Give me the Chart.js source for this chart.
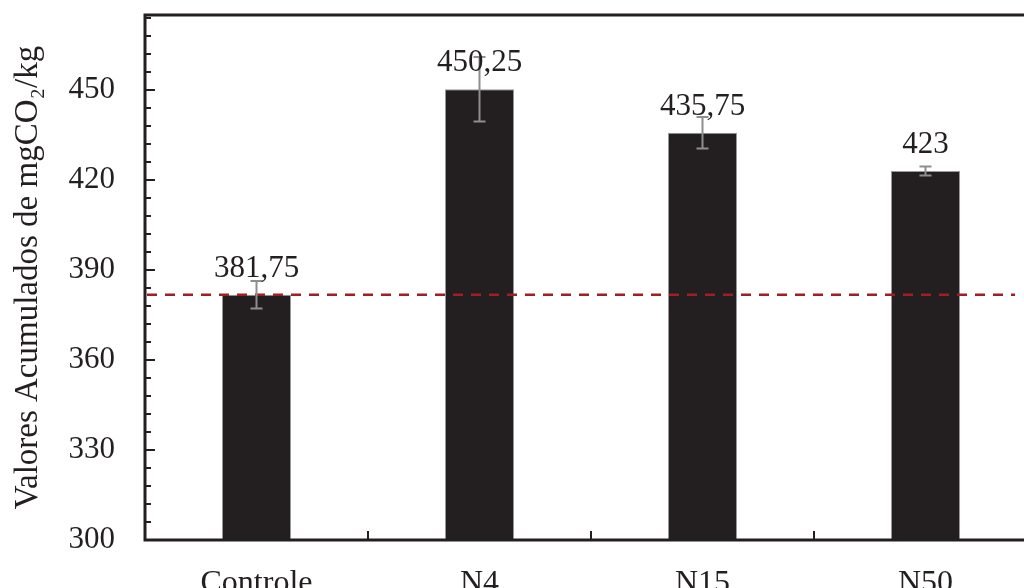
<!DOCTYPE html>
<html>
<head>
<meta charset="utf-8">
<script src="https://cdn.jsdelivr.net/npm/chart.js@4/dist/chart.umd.min.js"></script>
<style>
  body { margin: 0; background: #fff; overflow: hidden; }
  #wrap { width: 1050px; height: 588px; position: relative; }
</style>
</head>
<body>
<div id="wrap"><canvas id="chart"></canvas></div>
<script>
const categories = ["Controle", "N4", "N15", "N50"];
const values = [381.75, 450.25, 435.75, 423];
const errors = [4.6, 10.75, 5.25, 1.5];
const valueLabels = ["381,75", "450,25", "435,75", "423"];
const referenceValue = 381.75;
const yTicks = [300, 330, 360, 390, 420, 450];
const minorStep = 6;

const FONT = "'Liberation Serif', 'Times New Roman', serif";
const TEXT = "#231f20";

// frame, inward tick marks
const framePlugin = {
    id: "frame",
    afterDraw(chart) {
        const { ctx, chartArea: a, scales } = chart;
        const y = scales.y;
        ctx.save();
        ctx.strokeStyle = TEXT;
        ctx.lineWidth = 3;
        ctx.strokeRect(a.left, a.top, a.right - a.left, a.bottom - a.top);
        ctx.lineWidth = 2;
        for (let v = y.min; v <= y.max; v += minorStep) {
            const py = y.getPixelForValue(v);
            const len = (v - yTicks[0]) % 30 === 0 ? 10 : 6;
            ctx.beginPath();
            ctx.moveTo(a.left, py);
            ctx.lineTo(a.left + len, py);
            ctx.stroke();
        }
        const x = scales.x;
        for (let i = 1; i < categories.length; i++) {
            const px = (x.getPixelForValue(i - 1) + x.getPixelForValue(i)) / 2;
            ctx.beginPath();
            ctx.moveTo(px, a.bottom);
            ctx.lineTo(px, a.bottom - 9);
            ctx.stroke();
        }
        ctx.restore();
    }
};

// reference dashed line, error bars and value labels
const extrasPlugin = {
    id: "extras",
    afterDatasetsDraw(chart) {
        const { ctx, chartArea: a, scales } = chart;
        const y = scales.y;
        const meta = chart.getDatasetMeta(0);
        ctx.save();

        const ry = y.getPixelForValue(referenceValue);
        ctx.strokeStyle = "#a01e24";
        ctx.lineWidth = 2.5;
        ctx.setLineDash([10, 8]);
        ctx.beginPath();
        ctx.moveTo(a.left + 2, ry);
        ctx.lineTo(a.right - 22, ry);
        ctx.stroke();
        ctx.setLineDash([]);

        ctx.strokeStyle = "#8e8e8e";
        ctx.lineWidth = 2;
        meta.data.forEach((bar, i) => {
            const top = y.getPixelForValue(values[i] + errors[i]);
            const bot = y.getPixelForValue(values[i] - errors[i]);
            ctx.beginPath();
            ctx.moveTo(bar.x, top);
            ctx.lineTo(bar.x, bot);
            ctx.moveTo(bar.x - 6, top);
            ctx.lineTo(bar.x + 6, top);
            ctx.moveTo(bar.x - 6, bot);
            ctx.lineTo(bar.x + 6, bot);
            ctx.stroke();
        });

        ctx.fillStyle = TEXT;
        ctx.font = "31px " + FONT;
        ctx.textAlign = "center";
        ctx.textBaseline = "alphabetic";
        meta.data.forEach((bar, i) => {
            ctx.fillText(valueLabels[i], bar.x, bar.y - 18);
        });
        ctx.restore();
    }
};

new Chart(document.getElementById("chart"), {
    type: "bar",
    data: {
        labels: categories,
        datasets: [{
            data: values,
            backgroundColor: "#231f20",
            borderColor: "#9a9a9a",
            borderWidth: 1,
            categoryPercentage: 1,
            barPercentage: 0.31
        }]
    },
    options: {
        responsive: true,
        maintainAspectRatio: false,
        animation: false,
        layout: { padding: { top: 15, right: 13, left: 0, bottom: 0 } },
        plugins: { legend: { display: false }, tooltip: { enabled: false } },
        scales: {
            x: {
                grid: { display: false },
                border: { display: false },
                ticks: { color: TEXT, font: { family: FONT, size: 32 }, padding: 16 },
                afterFit(scale) { scale.height = 48; scale.paddingLeft = 0; scale.paddingRight = 0; }
            },
            y: {
                min: 300,
                max: 475,
                grid: { display: false },
                border: { display: false },
                afterBuildTicks(scale) { scale.ticks = yTicks.map(v => ({ value: v })); },
                ticks: { color: TEXT, font: { family: FONT, size: 31 }, padding: 22 },
                title: {
                    display: true,
                    text: "Valores Acumulados de mgCO₂/kg",
                    color: TEXT,
                    font: { family: FONT, size: 33 },
                    padding: { top: 9, bottom: 0 }
                },
                afterFit(scale) { scale.width = 145; scale.paddingTop = 0; scale.paddingBottom = 0; }
            }
        }
    },
    plugins: [framePlugin, extrasPlugin]
});
</script>
</body>
</html>
